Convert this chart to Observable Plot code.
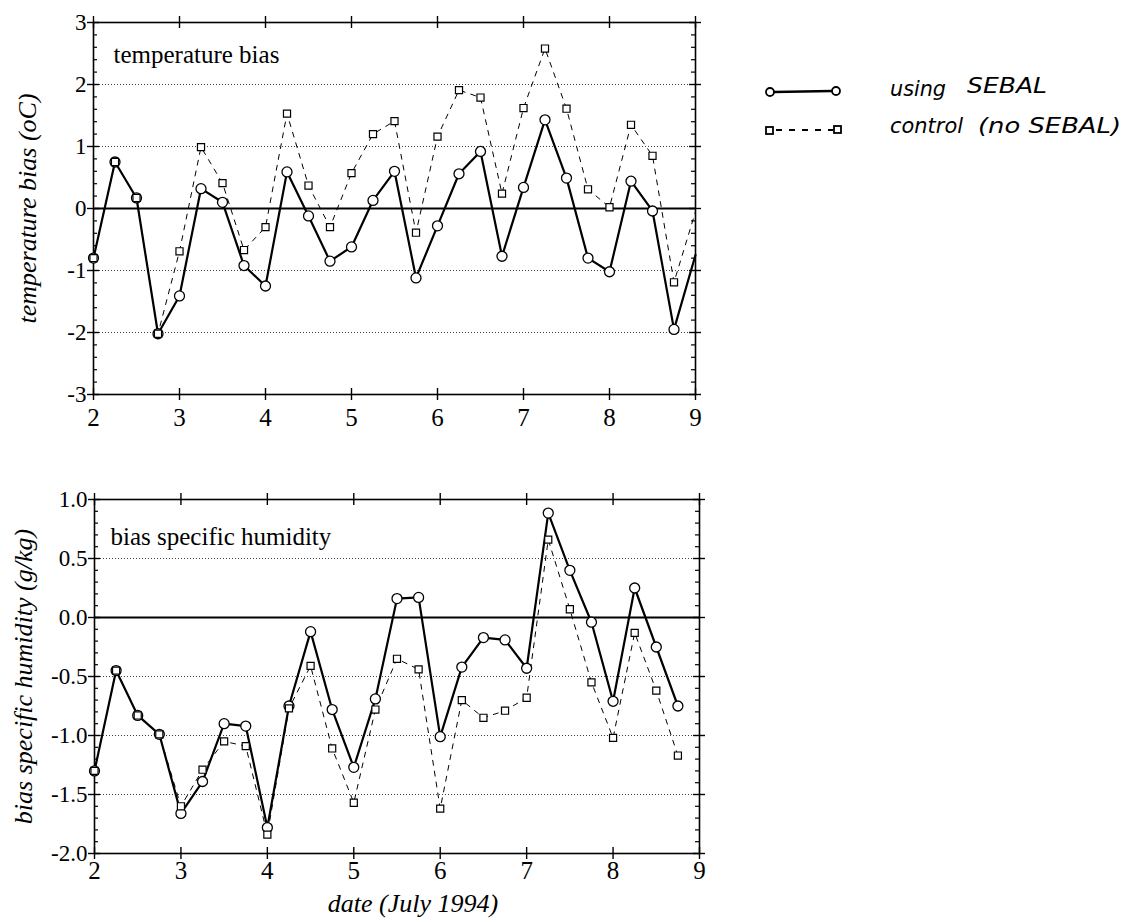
<!DOCTYPE html>
<html>
<head>
<meta charset="utf-8">
<script src="https://cdn.jsdelivr.net/npm/d3@7"></script>
<script src="https://cdn.jsdelivr.net/npm/@observablehq/plot@0.6"></script>
<style>
  body { margin: 0; background: #fff; }
  #wrap { position: relative; width: 1124px; height: 922px; overflow: hidden; }
  #top, #bottom, #legend { position: absolute; left: 0; }
  #top { top: 0; }
  #bottom { top: 460px; }
  #legend { top: 0; }
</style>
</head>
<body>
<div id="wrap">
  <div id="top"></div>
  <div id="bottom"></div>
  <svg id="legend" width="1124" height="200"></svg>
</div>
<script>
// ---- data (date in July 1994, 6-hourly) ----
const daysTemp = [2, 2.25, 2.5, 2.75, 3, 3.25, 3.5, 3.75, 4, 4.25, 4.5, 4.75, 5, 5.25, 5.5, 5.75,
  6, 6.25, 6.5, 6.75, 7, 7.25, 7.5, 7.75, 8, 8.25, 8.5, 8.75, 9];
const tempSebal = [-0.80, 0.75, 0.17, -2.02, -1.41, 0.32, 0.10, -0.92, -1.25, 0.59, -0.12, -0.85, -0.62, 0.13, 0.60, -1.12,
  -0.28, 0.56, 0.92, -0.77, 0.34, 1.43, 0.49, -0.80, -1.02, 0.44, -0.04, -1.95, -0.75];
const tempControl = [-0.80, 0.75, 0.17, -2.02, -0.69, 0.99, 0.41, -0.67, -0.30, 1.53, 0.37, -0.30, 0.57, 1.20, 1.41, -0.39,
  1.16, 1.91, 1.79, 0.24, 1.62, 2.58, 1.61, 0.31, 0.02, 1.35, 0.85, -1.19, -0.05];

const daysHum = [2, 2.25, 2.5, 2.75, 3, 3.25, 3.5, 3.75, 4, 4.25, 4.5, 4.75, 5, 5.25, 5.5, 5.75,
  6, 6.25, 6.5, 6.75, 7, 7.25, 7.5, 7.75, 8, 8.25, 8.5, 8.75];
const humSebal = [-1.30, -0.45, -0.83, -0.99, -1.66, -1.39, -0.90, -0.92, -1.78, -0.75, -0.12, -0.78, -1.27, -0.69, 0.16, 0.17,
  -1.01, -0.42, -0.17, -0.19, -0.43, 0.885, 0.40, -0.04, -0.71, 0.25, -0.25, -0.75];
const humControl = [-1.30, -0.45, -0.83, -0.99, -1.60, -1.29, -1.05, -1.09, -1.84, -0.77, -0.41, -1.11, -1.57, -0.78, -0.35, -0.44,
  -1.62, -0.70, -0.85, -0.79, -0.68, 0.66, 0.07, -0.55, -1.02, -0.13, -0.62, -1.17];

const xTicks = [2, 3, 4, 5, 6, 7, 8, 9];
const tempTicks = [-3, -2, -1, 0, 1, 2, 3];
const tempGrid = [-2, -1, 1, 2];
const humTicks = [-2.0, -1.5, -1.0, -0.5, 0.0, 0.5, 1.0];
const humGrid = [-1.5, -1.0, -0.5, 0.5];

const tempTitle = "temperature bias";
const tempYLabel = "temperature bias (oC)";
const humTitle = "bias specific humidity";
const humYLabel = "bias specific humidity (g/kg)";
const xLabel = "date (July 1994)";
const legendLabels = [["using", "SEBAL"], ["control", "(no SEBAL)"]];

// minor ticks
const tempMinor = d3.range(-30, 31, 2).map(v => v / 10).filter(v => Math.abs(v - Math.round(v)) > 1e-9);
const humMinor = d3.range(-20, 11, 1).map(v => v / 10).filter(v => Math.abs(v * 2 - Math.round(v * 2)) > 1e-9);

function panel(o) {
  const rows = o.x.map((x, i) => ({x, sebal: o.sebal[i], control: o.control[i]}));
  const pts = rows.filter(d => d.x < 9);
  const [y0, y1] = o.yDomain;
  const marks = [
    Plot.ruleY(o.grid, {stroke: "#000", strokeWidth: 1, strokeDasharray: "1,2", strokeOpacity: 0.75}),
    Plot.ruleY([0], {stroke: "#000", strokeWidth: 1.8}),
    Plot.frame({stroke: "#000", strokeWidth: 1.6}),
    Plot.ruleX(xTicks, {y1: y0, y2: y0, insetTop: -6, insetBottom: -6, strokeWidth: 1.4}),
    Plot.ruleX(xTicks, {y1: y1, y2: y1, insetTop: -6, insetBottom: -6, strokeWidth: 1.4}),
    Plot.ruleY(o.ticks, {x1: 2, x2: 2, insetLeft: -6, insetRight: -6, strokeWidth: 1.4}),
    Plot.ruleY(o.ticks, {x1: 9, x2: 9, insetLeft: -6, insetRight: -6, strokeWidth: 1.4}),
    Plot.ruleY(o.minor, {x1: 2, x2: 2, insetRight: -4, strokeWidth: 1.2}),
    Plot.ruleY(o.minor, {x1: 9, x2: 9, insetLeft: -4, strokeWidth: 1.2}),
    Plot.axisX({ticks: xTicks, tickSize: 0, tickPadding: o.xPad, fontSize: 25, label: null, tickFormat: d => String(d)}),
    Plot.axisY({ticks: o.ticks, tickSize: 0, tickPadding: 7, fontSize: 23, label: null, tickFormat: o.fmt}),
    Plot.line(rows, {x: "x", y: "control", stroke: "#000", strokeWidth: 1, strokeDasharray: "5,6"}),
    Plot.line(rows, {x: "x", y: "sebal", stroke: "#000", strokeWidth: 2.2}),
    Plot.dot(pts, {x: "x", y: "sebal", r: 5, fill: "white", stroke: "#000", strokeWidth: 1.3}),
    Plot.dot(pts, {x: "x", y: "control", symbol: "square", r: 4, fill: "white", stroke: "#000", strokeWidth: 1.2}),
    Plot.text([o.title], {frameAnchor: "top-left", textAnchor: "start", lineAnchor: "top", dx: o.tdx, dy: o.tdy, fontSize: 25}),
    Plot.text([o.ylabel], {frameAnchor: "left", textAnchor: "middle", lineAnchor: "middle", rotate: -90, dx: o.ldx, fontSize: 26, fontStyle: "italic"})
  ];
  if (o.xlabel) marks.push(Plot.text([o.xlabel], {frameAnchor: "bottom", textAnchor: "middle", lineAnchor: "middle", dx: 16, dy: 50, fontSize: 26, fontStyle: "italic"}));
  return Plot.plot({
    width: 720, height: o.height,
    marginLeft: o.ml, marginRight: o.mr, marginTop: o.mt, marginBottom: o.mb,
    style: {fontFamily: "'Liberation Serif', 'Times New Roman', serif", color: "#000", background: "transparent", overflow: "visible"},
    x: {domain: [2, 9]},
    y: {domain: o.yDomain},
    marks
  });
}

document.getElementById("top").append(panel({
  x: daysTemp, sebal: tempSebal, control: tempControl,
  yDomain: [-3, 3], ticks: tempTicks, grid: tempGrid, minor: tempMinor, fmt: d => String(d),
  height: 440, ml: 93, mr: 25, mt: 22, mb: 46, xPad: 14,
  title: tempTitle, tdx: 20, tdy: 23, ylabel: tempYLabel, ldx: -66
}));

document.getElementById("bottom").append(panel({
  x: daysHum, sebal: humSebal, control: humControl,
  yDomain: [-2, 1], ticks: humTicks, grid: humGrid, minor: humMinor, fmt: d => d.toFixed(1),
  height: 460, ml: 94, mr: 21, mt: 39, mb: 67, xPad: 8,
  title: humTitle, tdx: 16, tdy: 28, ylabel: humYLabel, ldx: -71, xlabel: xLabel
}));

// ---- hand-drawn style legend ----
const lg = d3.select("#legend");
lg.append("line").attr("x1", 774).attr("y1", 92).attr("x2", 832).attr("y2", 91)
  .attr("stroke", "#000").attr("stroke-width", 2.4);
lg.append("circle").attr("cx", 770).attr("cy", 92).attr("r", 4).attr("fill", "#fff").attr("stroke", "#000").attr("stroke-width", 1.8);
lg.append("circle").attr("cx", 836).attr("cy", 91).attr("r", 4).attr("fill", "#fff").attr("stroke", "#000").attr("stroke-width", 1.8);
lg.append("line").attr("x1", 776).attr("y1", 130).attr("x2", 833).attr("y2", 130)
  .attr("stroke", "#000").attr("stroke-width", 2).attr("stroke-dasharray", "6,7");
lg.append("rect").attr("x", 766).attr("y", 127).attr("width", 7).attr("height", 7).attr("fill", "#fff").attr("stroke", "#000").attr("stroke-width", 1.8);
lg.append("rect").attr("x", 834).attr("y", 126).attr("width", 7).attr("height", 7).attr("fill", "#fff").attr("stroke", "#000").attr("stroke-width", 1.8);
const legendText = [
  {t: legendLabels[0][0], x: 890, y: 96, w: 56},
  {t: legendLabels[0][1], x: 967, y: 93, w: 80},
  {t: legendLabels[1][0], x: 890, y: 133, w: 73},
  {t: legendLabels[1][1], x: 978, y: 133, w: 143}
];
lg.selectAll("text.lg").data(legendText).join("text").attr("class", "lg")
  .attr("x", d => d.x).attr("y", d => d.y)
  .attr("textLength", d => d.w).attr("lengthAdjust", "spacingAndGlyphs")
  .attr("font-family", "'DejaVu Sans', sans-serif").attr("font-size", 22).attr("font-style", "oblique")
  .attr("fill", "#000").text(d => d.t);
</script>
</body>
</html>
